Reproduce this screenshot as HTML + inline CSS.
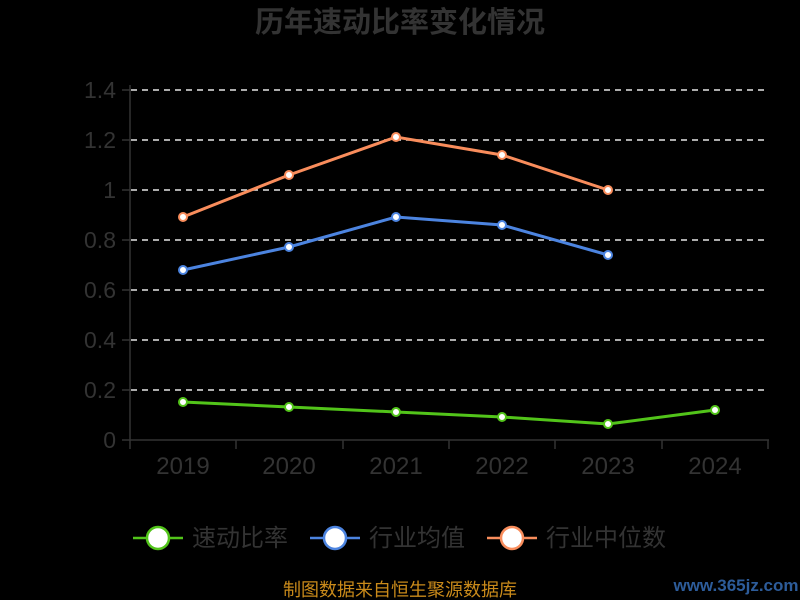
<!DOCTYPE html><html><head><meta charset="utf-8"><style>body{margin:0;background:#000;}svg{display:block}</style></head><body>
<svg width="800" height="600" xmlns="http://www.w3.org/2000/svg" font-family="'Liberation Sans','Noto Sans CJK SC',sans-serif">
<rect width="800" height="600" fill="#000"/>
<text x="400" y="32" text-anchor="middle" font-size="29" font-weight="bold" fill="#333">历年速动比率变化情况</text>
<g stroke="#e6e6e6" stroke-width="1.5" stroke-dasharray="6,5">
<line x1="131" y1="90" x2="768" y2="90"/><line x1="131" y1="140" x2="768" y2="140"/><line x1="131" y1="190" x2="768" y2="190"/><line x1="131" y1="240" x2="768" y2="240"/><line x1="131" y1="290" x2="768" y2="290"/><line x1="131" y1="340" x2="768" y2="340"/><line x1="131" y1="390" x2="768" y2="390"/>
</g>
<g stroke="#333" stroke-width="1.5">
<line x1="130" y1="85" x2="130" y2="441"/><line x1="122" y1="440" x2="769" y2="440"/>
<line x1="122" y1="90" x2="130" y2="90"/><line x1="122" y1="140" x2="130" y2="140"/><line x1="122" y1="190" x2="130" y2="190"/><line x1="122" y1="240" x2="130" y2="240"/><line x1="122" y1="290" x2="130" y2="290"/><line x1="122" y1="340" x2="130" y2="340"/><line x1="122" y1="390" x2="130" y2="390"/>
<line x1="130" y1="440" x2="130" y2="449"/><line x1="236" y1="440" x2="236" y2="449"/><line x1="343" y1="440" x2="343" y2="449"/><line x1="449" y1="440" x2="449" y2="449"/><line x1="555" y1="440" x2="555" y2="449"/><line x1="662" y1="440" x2="662" y2="449"/><line x1="768" y1="440" x2="768" y2="449"/>
</g>
<g font-size="23" fill="#333" text-anchor="end">
<text x="116" y="98">1.4</text><text x="116" y="148">1.2</text><text x="116" y="198">1</text><text x="116" y="248">0.8</text><text x="116" y="298">0.6</text><text x="116" y="348">0.4</text><text x="116" y="398">0.2</text><text x="116" y="448">0</text>
</g>
<g font-size="24" fill="#333" text-anchor="middle">
<text x="183" y="474">2019</text><text x="289" y="474">2020</text><text x="396" y="474">2021</text><text x="502" y="474">2022</text><text x="608" y="474">2023</text><text x="715" y="474">2024</text>
</g>
<polyline points="183,217 289,175 396,137 502,155 608,190" fill="none" stroke="#f98d5c" stroke-width="3"/>
<polyline points="183,270 289,247 396,217 502,225 608,255" fill="none" stroke="#4c84e0" stroke-width="3"/>
<polyline points="183,402 289,407 396,412 502,417 608,424 715,410" fill="none" stroke="#52c41a" stroke-width="3"/>
<g fill="#fff" stroke-width="2">
<g stroke="#f98d5c"><circle cx="183" cy="217" r="4"/><circle cx="289" cy="175" r="4"/><circle cx="396" cy="137" r="4"/><circle cx="502" cy="155" r="4"/><circle cx="608" cy="190" r="4"/></g>
<g stroke="#4c84e0"><circle cx="183" cy="270" r="4"/><circle cx="289" cy="247" r="4"/><circle cx="396" cy="217" r="4"/><circle cx="502" cy="225" r="4"/><circle cx="608" cy="255" r="4"/></g>
<g stroke="#52c41a"><circle cx="183" cy="402" r="4"/><circle cx="289" cy="407" r="4"/><circle cx="396" cy="412" r="4"/><circle cx="502" cy="417" r="4"/><circle cx="608" cy="424" r="4"/><circle cx="715" cy="410" r="4"/></g>
</g>
<g stroke-width="2.5" fill="#fff">
<line x1="133" y1="538" x2="183" y2="538" stroke="#52c41a"/><circle cx="158" cy="538" r="11" stroke="#52c41a"/>
<line x1="310" y1="538" x2="360" y2="538" stroke="#4c84e0"/><circle cx="335" cy="538" r="11" stroke="#4c84e0"/>
<line x1="487" y1="538" x2="537" y2="538" stroke="#f98d5c"/><circle cx="512" cy="538" r="11" stroke="#f98d5c"/>
</g>
<g font-size="24" fill="#333">
<text x="192" y="546">速动比率</text><text x="369" y="546">行业均值</text><text x="546" y="546">行业中位数</text>
</g>
<text x="400" y="596" text-anchor="middle" font-size="18" fill="#c98a1a">制图数据来自恒生聚源数据库</text>
<text x="736" y="591" text-anchor="middle" font-size="17" font-weight="bold" fill="#2d5c9a">www.365jz.com</text>
</svg>
</body></html>
